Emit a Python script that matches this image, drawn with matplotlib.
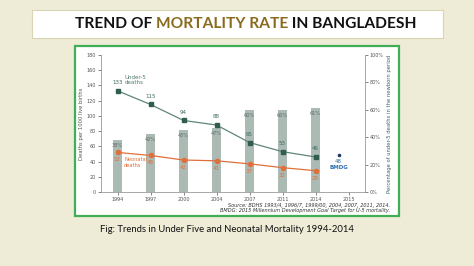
import numpy as np
import matplotlib
matplotlib.use('Agg')
import matplotlib.pyplot as plt
from matplotlib.patches import Rectangle

years = ['1994', '1997', '2000', '2004', '2007', '2011', '2014', '2015']
bar_years = ['1994', '1997', '2000', '2004', '2007', '2011', '2014']
under5 = [133, 115, 94, 88, 65, 53, 46]
neonatal = [52, 48, 42, 41, 37, 32, 28]
newborn_pct = [38, 42, 45, 47, 60, 60, 61]
bmdg_value = 48

W, H = 474, 266
fig = plt.figure(figsize=(W / 100, H / 100), dpi=100)
fig.patch.set_facecolor('#eeebd6')

def px(x0, y0, x1, y1):
    # pixel box (top-left origin) -> figure fraction rect
    return [x0 / W, 1 - y1 / H, (x1 - x0) / W, (y1 - y0) / H]

# title box
r = px(32, 10, 443, 38)
fig.patches.append(Rectangle((r[0], r[1]), r[2], r[3], transform=fig.transFigure,
                             facecolor='white', edgecolor='#d9d4b4', lw=0.8, zorder=-5))
# green panel
r = px(75, 46, 399, 216)
fig.patches.append(Rectangle((r[0], r[1]), r[2], r[3], transform=fig.transFigure,
                             facecolor='white', edgecolor='#3fae55', lw=1.6, zorder=-5))

# multi colour title
title_parts = [('TREND OF ', '#111111'), ('MORTALITY RATE', '#8a6a1e'), (' IN BANGLADESH', '#111111')]
fig.canvas.draw()
renderer = fig.canvas.get_renderer()
x = 75 / W
for txt, col in title_parts:
    t = fig.text(x, 1 - 24 / H, txt, color=col, fontsize=11.2, fontweight='bold',
                 family='Lato', va='center', ha='left')
    bb = t.get_window_extent(renderer)
    x += bb.width / W

ax = fig.add_axes(px(101, 55, 365, 192))
ax2 = ax.twinx()
ax.set_zorder(ax2.get_zorder() + 1)
ax.patch.set_visible(False)
ax2.patch.set_visible(False)

pos = np.arange(len(years))
bpos = np.arange(len(bar_years))
ax2.bar(bpos, newborn_pct, width=0.3, color='#abbbb4', zorder=1)
for i, p in enumerate(newborn_pct):
    ax2.text(i, p - 4, f'{p}%', ha='center', va='center', fontsize=3.6, color='#5f6b67')
ax2.set_ylim(0, 100)

ax.plot(bpos, under5, color='#5f857a', lw=0.9, marker='s', ms=3,
        markerfacecolor='#2f5e50', markeredgecolor='#2f5e50')
ax.plot(bpos, neonatal, color='#e0703a', lw=0.9, marker='o', ms=3,
        markerfacecolor='#e0703a', markeredgecolor='#e0703a')
for i, v in enumerate(under5):
    ax.annotate(str(v), (i, v), xytext=(0, 4), textcoords='offset points',
                ha='center', va='bottom', fontsize=4, color='#3d6a5c')
for i, v in enumerate(neonatal):
    ax.annotate(str(v), (i, v), xytext=(0, -3.5), textcoords='offset points',
                ha='center', va='top', fontsize=4, color='#e0703a')

ax.plot([6.7], [bmdg_value], 'o', color='#1f3f5f', ms=1.6)
ax.annotate(str(bmdg_value), (6.7, bmdg_value), xytext=(0, -2.5), textcoords='offset points',
            ha='center', va='top', fontsize=4, color='#2f6f9f')
ax.annotate('BMDG', (6.7, bmdg_value), xytext=(0, -7), textcoords='offset points',
            ha='center', va='top', fontsize=4, color='#2f6fae', fontweight='bold')

ax.text(0.22, 147, 'Under-5\ndeaths', fontsize=4, color='#4f7a6c', va='center', ha='left', linespacing=1.1)
ax.text(0.2, 39, 'Neonatal\ndeaths', fontsize=3.7, color='#e0703a', va='center', ha='left', linespacing=1.1)

ax.set_xlim(-0.5, len(years) - 0.5)
ax.set_ylim(0, 180)
ax.set_yticks(np.arange(0, 181, 20))
ax.set_xticks(pos)
ax.set_xticklabels(years)
ax2.set_yticks(np.arange(0, 101, 20))
ax2.set_yticklabels([f'{v}%' for v in range(0, 101, 20)])

for a in (ax, ax2):
    for s in a.spines.values():
        s.set_color('#9a9a9a')
        s.set_linewidth(0.6)
    a.spines['top'].set_visible(False)
    a.tick_params(labelsize=3.5, colors='#555555', length=2, width=0.5, pad=1.5)
ax.spines['right'].set_visible(False)
ax2.spines['left'].set_visible(False)
ax2.spines['bottom'].set_visible(False)

ax.set_ylabel('Deaths per 1000 live births', fontsize=3.8, color='#555555', labelpad=2)
ax2.set_ylabel('Percentage of under-5 deaths in the newborn period', fontsize=3.8,
               color='#3d6a5c', labelpad=2)

fig.text(390 / W, 1 - 208 / H,
         'Source: BDHS 1993/4, 1996/7, 1999/00, 2004, 2007, 2011, 2014.\n'
         'BMDG: 2015 Millennium Development Goal Target for U-5 mortality.',
         ha='right', va='center', fontsize=3.6, style='italic', color='#333333', linespacing=1.2)

fig.text(100 / W, 1 - 229 / H, 'Fig: Trends in Under Five and Neonatal Mortality 1994-2014',
         fontsize=6.8, family='Lato', color='#111111', ha='left', va='center')

fig.savefig('out.png', dpi=100, facecolor=fig.get_facecolor())
